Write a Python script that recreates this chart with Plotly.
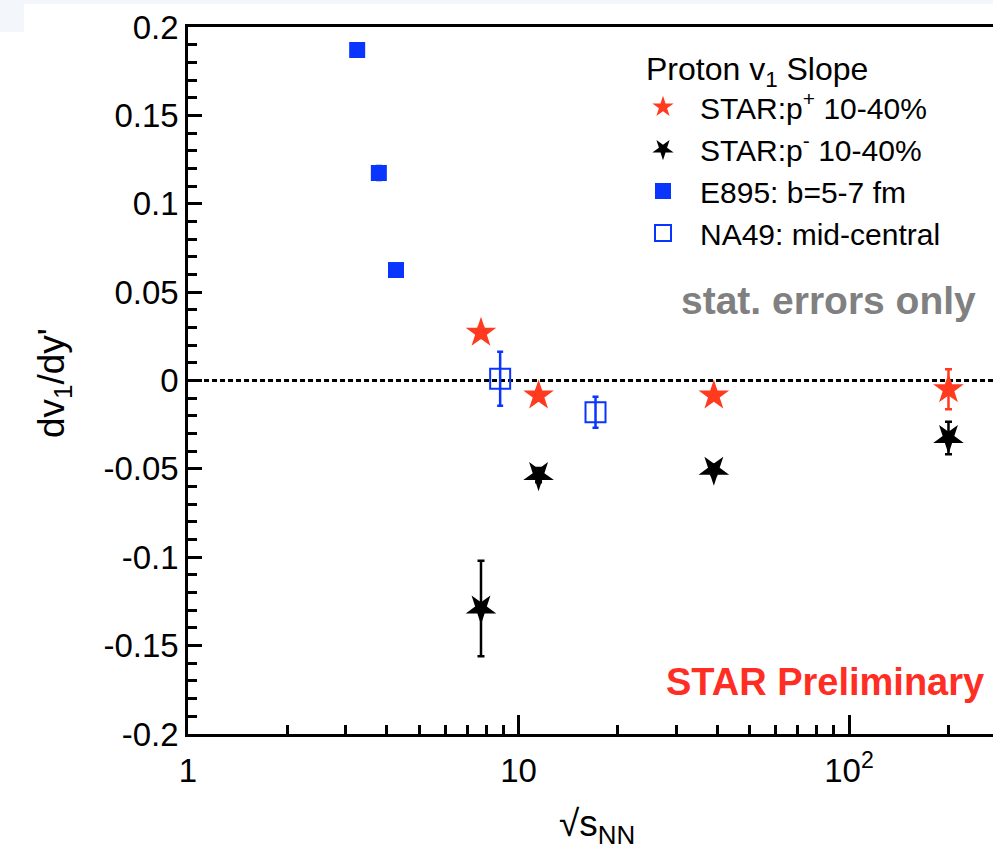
import plotly.graph_objects as go
import math

# ---------------- data ----------------
star_energy = [7.7, 11.5, 39, 200]
star_pplus = [0.027, -0.0085, -0.0085, -0.005]
star_pplus_err = [0.003, 0.003, 0.002, 0.0113]
star_pminus = [-0.129, -0.0535, -0.0505, -0.0325]
star_pminus_err = [0.027, 0.004, 0.003, 0.0092]

e895_energy = [3.25, 3.78, 4.26]
e895_v1 = [0.187, 0.1174, 0.0625]
e895_err = [0.003, 0.004, 0.003]

na49_energy = [8.8, 17.1]
na49_v1 = [0.001, -0.018]
na49_err = [0.0153, 0.0088]

y_tickvals = [0.2, 0.15, 0.1, 0.05, 0, -0.05, -0.1, -0.15, -0.2]
y_ticktext = ["0.2", "0.15", "0.1", "0.05", "0", "-0.05", "-0.1", "-0.15", "-0.2"]
x_tickvals = [1, 10, 100]
x_ticktext = ["1", "10", "10<sup>2</sup>"]
x_minor = [2, 3, 4, 5, 6, 7, 8, 9, 20, 30, 40, 50, 60, 70, 80, 90, 200]

RED = "#ff3a1f"
BLUE = "#0a35ff"
FONT = "Liberation Sans"

W, H = 993, 852
ML, MT, MB, MR = 188, 27, 118, 0
PW = W - ML - MR
PH = H - MT - MB


def px(xp):
    return (xp - ML) / PW


def py(yp):
    return (H - MB - yp) / PH


fig = go.Figure()

fig.add_trace(go.Scatter(
    x=star_energy, y=star_pplus, mode="markers", name="STAR:p<sup>+</sup> 10-40%",
    legendgroup="a",
    marker=dict(symbol="star", size=23, color=RED, line=dict(width=0)),
    error_y=dict(type="data", array=star_pplus_err, color=RED, thickness=2.5, width=3.5),
))
fig.add_trace(go.Scatter(
    x=star_energy, y=star_pminus, mode="markers", name="STAR:p<sup>-</sup> 10-40%",
    legendgroup="b",
    marker=dict(symbol="star", size=23, angle=180, color="black", line=dict(width=0)),
    error_y=dict(type="data", array=star_pminus_err, color="black", thickness=2.5, width=3.5),
))
fig.add_trace(go.Scatter(
    x=e895_energy, y=e895_v1, mode="markers", name="E895: b=5-7 fm",
    legendgroup="c",
    marker=dict(symbol="square", size=16, color=BLUE, line=dict(width=0)),
    error_y=dict(type="data", array=e895_err, color=BLUE, thickness=2.5, width=3),
))
fig.add_trace(go.Scatter(
    x=na49_energy, y=na49_v1, mode="markers", name="NA49: mid-central",
    legendgroup="d",
    marker=dict(symbol="square-open", size=20, color=BLUE, line=dict(width=2, color=BLUE)),
    error_y=dict(type="data", array=na49_err, color=BLUE, thickness=2.5, width=3),
))

axis_common = dict(
    showline=True, linecolor="black", linewidth=2.5,
    ticks="inside", tickcolor="black", tickwidth=2.5,
    showgrid=False, zeroline=False,
    tickfont=dict(family=FONT, size=33, color="black"),
)

fig.update_xaxes(
    type="log", range=[0, PW / 330.5],
    tickmode="array", tickvals=x_tickvals, ticktext=x_ticktext,
    ticklen=19, mirror=True, ticklabelstandoff=6,
    minor=dict(tickmode="array", tickvals=x_minor, ticks="inside", ticklen=9,
               tickwidth=2.5, tickcolor="black", showgrid=False),
    **axis_common,
)
fig.update_yaxes(
    range=[-0.2, 0.2],
    tickmode="array", tickvals=y_tickvals, ticktext=y_ticktext,
    ticklen=14, mirror=False,
    minor=dict(dtick=0.01, ticks="inside", ticklen=9, tickwidth=2.5,
               tickcolor="black", showgrid=False),
    **axis_common,
)

shapes = [
    dict(type="line", xref="paper", yref="y", x0=0, x1=1, y0=0, y1=0,
         line=dict(color="black", width=3, dash="5px,3px"), layer="below"),
    dict(type="rect", xref="paper", yref="paper", x0=px(0), x1=px(W), y0=py(4), y1=py(0),
         fillcolor="#f3f6fb", line=dict(width=0), layer="below"),
    dict(type="rect", xref="paper", yref="paper", x0=px(0), x1=px(24), y0=py(32), y1=py(0),
         fillcolor="#f3f6fb", line=dict(width=0), layer="below"),
]

annotations = [
    dict(text="Proton v<sub>1</sub> Slope", xref="paper", yref="paper",
         x=px(644), y=py(71), xanchor="left", yanchor="middle", showarrow=False,
         font=dict(family=FONT, size=32, color="black")),
    dict(text="<b>stat. errors only</b>", xref="paper", yref="paper",
         x=px(679), y=py(301), xanchor="left", yanchor="middle", showarrow=False,
         font=dict(family=FONT, size=39, color="#808080")),
    dict(text="<b>STAR Preliminary</b>", xref="paper", yref="paper",
         x=px(664), y=py(682), xanchor="left", yanchor="middle", showarrow=False,
         font=dict(family=FONT, size=38, color="#ff2e24")),
    dict(text="dv<sub>1</sub>/dy'", xref="paper", yref="paper",
         x=px(54), y=py(383), xanchor="center", yanchor="middle", showarrow=False,
         textangle=-90, font=dict(family=FONT, size=37, color="black")),
    dict(text="√s<sub>NN</sub>", xref="paper", yref="paper",
         x=px(597), y=py(826), xanchor="center", yanchor="middle", showarrow=False,
         font=dict(family=FONT, size=37, color="black")),
]

fig.update_layout(
    width=W, height=H,
    margin=dict(l=ML, r=MR, t=MT, b=MB, pad=0),
    paper_bgcolor="white", plot_bgcolor="white",
    shapes=shapes, annotations=annotations,
    showlegend=True,
    legend=dict(
        x=px(626), y=py(81), xanchor="left", yanchor="top",
        bgcolor="rgba(0,0,0,0)", borderwidth=0,
        font=dict(family=FONT, size=30, color="black"),
        itemwidth=64, tracegroupgap=0, itemsizing="trace",
    ),
    font=dict(family=FONT),
)

fig.write_html("out.html")
